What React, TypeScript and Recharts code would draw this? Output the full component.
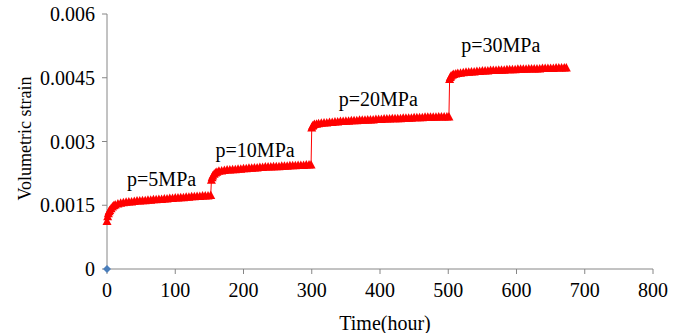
import React from 'react';
import {
  ComposedChart,
  Line,
  Scatter,
  XAxis,
  YAxis,
  ReferenceDot,
} from 'recharts';

// Time (hour)
const timeHours: number[] = [
  0, 1, 2, 3, 4, 6, 8, 10, 12, 16, 20, 24, 28, 32, 36, 40, 44, 48, 52, 56, 60, 64, 68, 72, 76, 80, 84, 88, 92, 96, 100,
  104, 108, 112, 116, 120, 124, 128, 132, 136, 140, 144, 148, 152,
  153, 154, 155, 157, 159, 161, 164, 168, 172, 176, 180, 184, 188, 192, 196, 200, 204, 208, 212, 216, 220, 224, 228,
  232, 236, 240, 244, 248, 252, 256, 260, 264, 268, 272, 276, 280, 284, 288, 292, 296, 299,
  300, 301, 302, 304, 307, 310, 314, 318, 322, 326, 330, 334, 338, 342, 346, 350, 354, 358, 362, 366, 370, 374, 378,
  382, 386, 390, 394, 398, 402, 406, 410, 414, 418, 422, 426, 430, 434, 438, 442, 446, 450, 454, 458, 462, 466, 470,
  474, 478, 482, 486, 490, 494, 498, 501,
  502, 503, 504, 506, 508, 511, 514, 518, 522, 526, 530, 534, 538, 542, 546, 550, 554, 558, 562, 566, 570, 574, 578,
  582, 586, 590, 594, 598, 602, 606, 610, 614, 618, 622, 626, 630, 634, 638, 642, 646, 650, 654, 658, 662, 666, 670, 673,
];

// Volumetric strain
const strainValues: number[] = [
  0.00113, 0.00124, 0.00131, 0.00136, 0.00139, 0.00143, 0.00147, 0.0015, 0.00152, 0.00154, 0.00156, 0.00157, 0.00158,
  0.00159, 0.00159, 0.0016, 0.00161, 0.00161, 0.00162, 0.00162, 0.00163, 0.00163, 0.00164, 0.00164, 0.00165, 0.00165,
  0.00166, 0.00166, 0.00167, 0.00167, 0.00168, 0.00168, 0.00169, 0.00169, 0.0017, 0.0017, 0.00171, 0.00171, 0.00172,
  0.00172, 0.00173, 0.00173, 0.00173, 0.00174,
  0.0021, 0.00216, 0.0022, 0.00224, 0.00227, 0.00229, 0.00231, 0.00232, 0.00233, 0.00234, 0.00234, 0.00235, 0.00235,
  0.00236, 0.00236, 0.00237, 0.00237, 0.00238, 0.00238, 0.00239, 0.00239, 0.0024, 0.0024, 0.00241, 0.00241, 0.00241,
  0.00242, 0.00242, 0.00242, 0.00243, 0.00243, 0.00243, 0.00244, 0.00244, 0.00244, 0.00245, 0.00245, 0.00245, 0.00246,
  0.00246, 0.00246,
  0.00333, 0.00337, 0.00339, 0.00341, 0.00342, 0.00343, 0.00344, 0.00345, 0.00345, 0.00346, 0.00346, 0.00347, 0.00347,
  0.00348, 0.00348, 0.00349, 0.00349, 0.0035, 0.0035, 0.0035, 0.00351, 0.00351, 0.00351, 0.00352, 0.00352, 0.00352,
  0.00353, 0.00353, 0.00353, 0.00354, 0.00354, 0.00354, 0.00355, 0.00355, 0.00355, 0.00355, 0.00356, 0.00356, 0.00356,
  0.00356, 0.00357, 0.00357, 0.00357, 0.00357, 0.00358, 0.00358, 0.00358, 0.00358, 0.00358, 0.00359, 0.00359, 0.00359,
  0.00359, 0.00359,
  0.00447, 0.00452, 0.00455, 0.00457, 0.00459, 0.0046, 0.00461, 0.00462, 0.00463, 0.00464, 0.00464, 0.00465, 0.00465,
  0.00466, 0.00466, 0.00467, 0.00467, 0.00467, 0.00468, 0.00468, 0.00468, 0.00469, 0.00469, 0.00469, 0.0047, 0.0047,
  0.0047, 0.0047, 0.00471, 0.00471, 0.00471, 0.00471, 0.00472, 0.00472, 0.00472, 0.00472, 0.00472, 0.00473, 0.00473,
  0.00473, 0.00473, 0.00473, 0.00474, 0.00474, 0.00474, 0.00474, 0.00474,
];

// Origin marker series
const originTime: number[] = [0];
const originStrain: number[] = [0];

const xTicks: number[] = [0, 100, 200, 300, 400, 500, 600, 700, 800];
const yTicks: number[] = [0, 0.0015, 0.003, 0.0045, 0.006];

// Pressure annotations
const annotationLabels: string[] = ['p=5MPa', 'p=10MPa', 'p=20MPa', 'p=30MPa'];
const annotationTimes: number[] = [80, 217, 397.5, 577];
const annotationStrains: number[] = [0.00213, 0.0028, 0.00401, 0.00527];

const strainData = timeHours.map((t, i) => ({ t, strain: strainValues[i] }));
const originData = originTime.map((t, i) => ({ t, strain: originStrain[i] }));

const FONT = "'Liberation Serif', 'Times New Roman', Times, serif";
const AXIS_COLOR = '#868686';

const TriangleDot = (props: any) => {
  const { cx, cy, index } = props;
  if (cx == null || cy == null) return <g key={`t-${index}`} />;
  return (
    <polygon
      key={`t-${index}`}
      points={`${cx},${cy - 4.5} ${cx + 4.5},${cy + 4} ${cx - 4.5},${cy + 4}`}
      fill="#FF0000"
      stroke="none"
    />
  );
};

const DiamondShape = (props: any) => {
  const { cx, cy } = props;
  return (
    <polygon
      points={`${cx},${cy - 4} ${cx + 4},${cy} ${cx},${cy + 4} ${cx - 4},${cy}`}
      fill="#4A7EBB"
      stroke="none"
    />
  );
};

const YLabel = (props: any) => {
  const { viewBox } = props;
  const cx = viewBox.x + 25;
  const cy = viewBox.y + viewBox.height / 2 - 3;
  return (
    <text
      x={cx}
      y={cy}
      transform={`rotate(-90, ${cx}, ${cy})`}
      textAnchor="middle"
      dominantBaseline="central"
      fontSize={18}
      fill="#000"
    >
      Volumetric strain
    </text>
  );
};

const XLabel = (props: any) => {
  const { viewBox } = props;
  const cx = viewBox.x + viewBox.width / 2 + 5;
  const y = viewBox.y + 61;
  return (
    <text x={cx} y={y} textAnchor="middle" fontSize={20} fill="#000">
      Time(hour)
    </text>
  );
};

export default function App() {
  return (
    <div style={{ position: 'absolute', left: 0, top: 0, width: 685, height: 333, background: '#fff' }}>
      <style>{`.chart-root svg text, .chart-root svg tspan { font-family: ${FONT} !important; font-weight: normal; }`}</style>
      <div className="chart-root">
        <ComposedChart
          width={685}
          height={333}
          data={strainData}
          margin={{ top: 14, right: 32, bottom: 0, left: 0 }}
        >
          <XAxis
            dataKey="t"
            type="number"
            domain={[0, 800]}
            ticks={xTicks}
            interval={0}
            height={64}
            tickSize={5}
            tickMargin={9}
            axisLine={{ stroke: AXIS_COLOR }}
            tickLine={{ stroke: AXIS_COLOR }}
            tick={{ fontSize: 20, fill: '#000' }}
            label={<XLabel />}
          />
          <YAxis
            type="number"
            domain={[0, 0.006]}
            ticks={yTicks}
            interval={0}
            width={107}
            tickSize={5}
            tickMargin={7}
            axisLine={{ stroke: AXIS_COLOR }}
            tickLine={{ stroke: AXIS_COLOR }}
            tick={{ fontSize: 20, fill: '#000' }}
            tickFormatter={(v: number) => String(v)}
            label={<YLabel />}
          />
          <Line
            dataKey="strain"
            type="linear"
            stroke="#FF0000"
            strokeWidth={1}
            dot={TriangleDot}
            activeDot={false}
            isAnimationActive={false}
          />
          <Scatter
            data={originData}
            dataKey="strain"
            shape={<DiamondShape />}
            isAnimationActive={false}
          />
          {annotationLabels.map((lbl, i) => (
            <ReferenceDot
              key={lbl}
              x={annotationTimes[i]}
              y={annotationStrains[i]}
              r={0}
              fill="none"
              stroke="none"
              ifOverflow="visible"
              label={{ value: lbl, position: 'center', fontSize: 20, fill: '#000' }}
            />
          ))}
        </ComposedChart>
      </div>
    </div>
  );
}
